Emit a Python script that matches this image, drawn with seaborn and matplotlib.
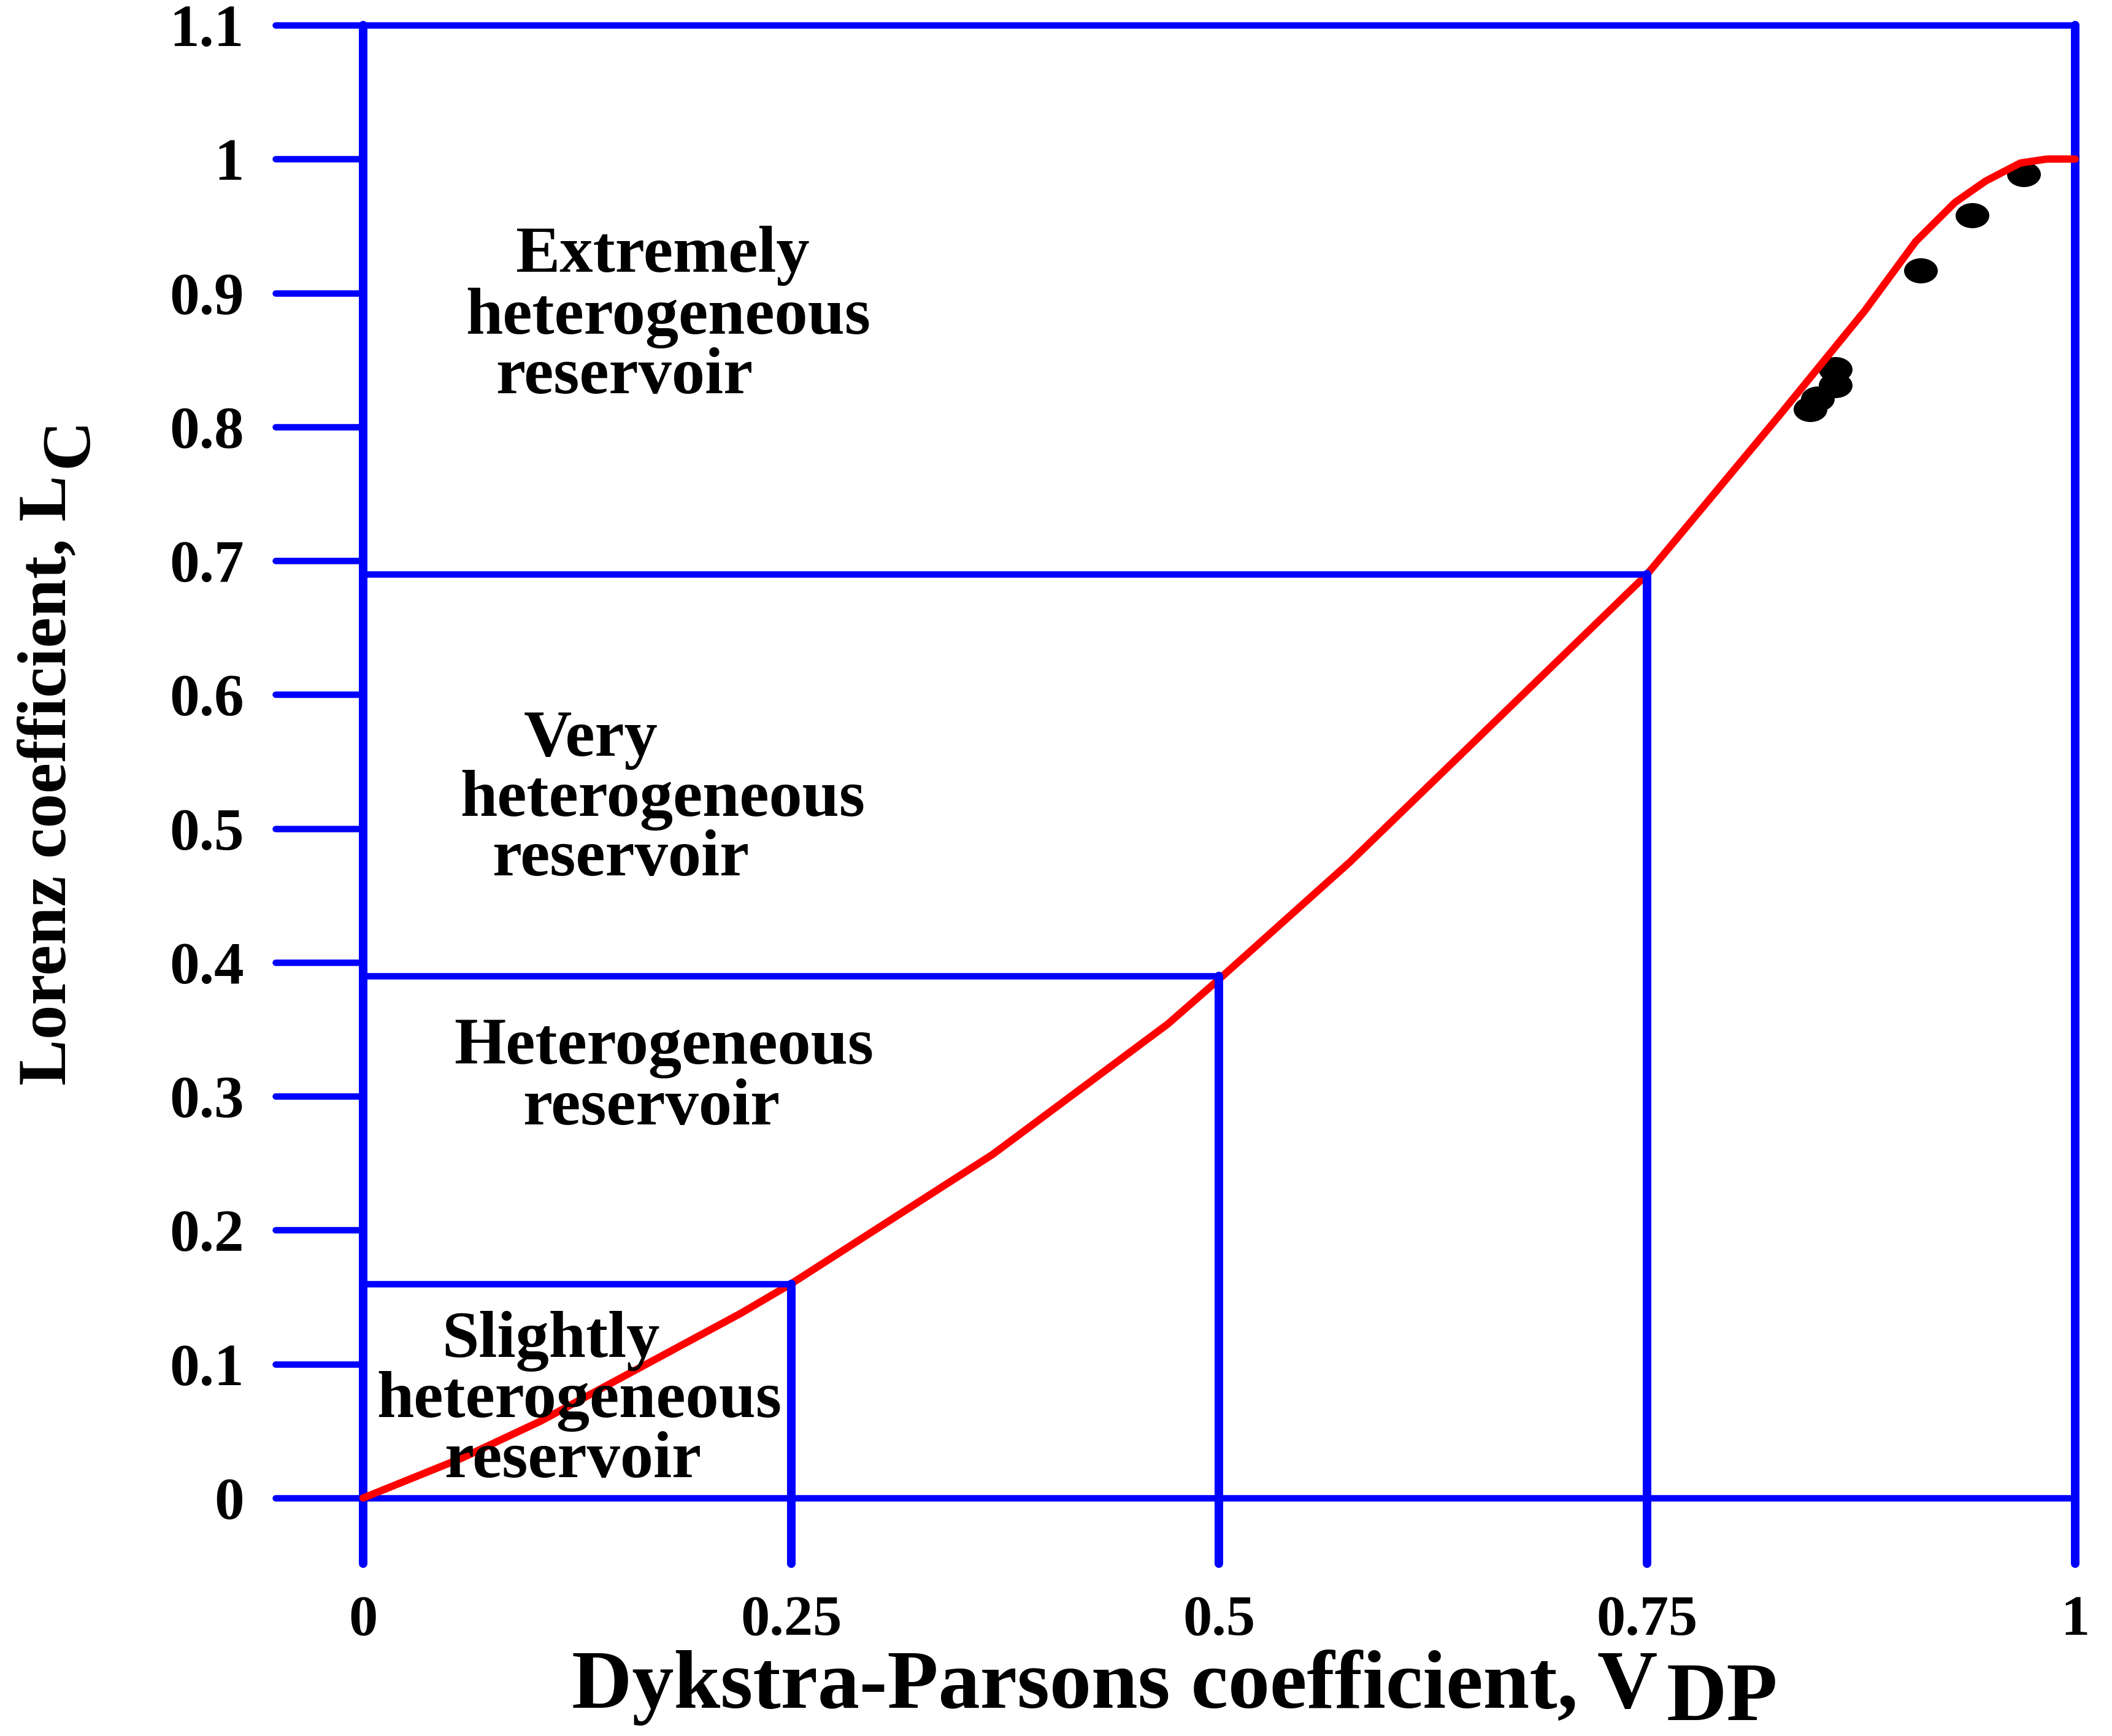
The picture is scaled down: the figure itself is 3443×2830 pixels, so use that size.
import numpy as np
import matplotlib
matplotlib.use("Agg")
import matplotlib.pyplot as plt
import seaborn as sns
import pandas as pd
from matplotlib.path import Path
from matplotlib.markers import MarkerStyle

# ---------------- data ----------------
vdp_curve = [0.0, 0.058, 0.1035, 0.2207, 0.25, 0.3677, 0.470, 0.500, 0.5764,
             0.750, 0.8274, 0.8771, 0.9069, 0.9297, 0.9476, 0.9679, 0.9834, 1.0]
lc_curve = [0.0, 0.030, 0.0573, 0.138, 0.160, 0.2566, 0.354, 0.3875, 0.475,
            0.690, 0.8088, 0.8867, 0.9385, 0.9675, 0.9835, 0.997, 1.0, 1.0]

vdp_points = [0.9700, 0.9398, 0.9097, 0.8598, 0.8598, 0.8496, 0.8453]
lc_points = [0.9885, 0.9578, 0.9166, 0.8430, 0.8309, 0.8209, 0.8134]

class_vdp = [0.25, 0.5, 0.75]
class_lc = [0.16, 0.39, 0.69]

x_ticks = [0, 0.25, 0.5, 0.75, 1]
x_tick_labels = ["0", "0.25", "0.5", "0.75", "1"]
y_ticks = [0, 0.1, 0.2, 0.3, 0.4, 0.5, 0.6, 0.7, 0.8, 0.9, 1.0, 1.1]
y_tick_labels = ["0", "0.1", "0.2", "0.3", "0.4", "0.5", "0.6", "0.7",
                 "0.8", "0.9", "1", "1.1"]

region_lines = ["Extremely", "heterogeneous", "reservoir",
                "Very", "heterogeneous", "reservoir",
                "Heterogeneous", "reservoir",
                "Slightly", "heterogeneous", "reservoir"]
region_x = [0.1748, 0.1781, 0.1526, 0.1329, 0.1748, 0.1505, 0.1756, 0.1684,
            0.1096, 0.1261, 0.1225]
region_y = [0.9157, 0.8695, 0.8250, 0.5543, 0.5094, 0.4650, 0.3243, 0.2790,
            0.1054, 0.0605, 0.0156]

x_label_main, x_label_sub = "Dykstra-Parsons coefficient, V", "DP"
y_label_main, y_label_sub = "Lorenz coefficient, L", "C"

# ---------------- styling ----------------
sns.set_theme(style="white")
plt.rcParams['font.family'] = ['Liberation Serif', 'DejaVu Serif']
plt.rcParams['font.weight'] = 'bold'
for k in ['text.color', 'axes.labelcolor', 'xtick.color', 'ytick.color']:
    plt.rcParams[k] = 'black'

W, H, DPI = 3443, 2830, 100
PT = 72.0 / DPI  # points per pixel
BLUE = '#0000ff'
RED = '#ff0000'

fig = plt.figure(figsize=(W / DPI, H / DPI), dpi=DPI)
fig.patch.set_facecolor('white')
ax_l, ax_r, ax_b, ax_t = 592, 3383, 2442, 41
ax = fig.add_axes([ax_l / W, 1 - ax_b / H, (ax_r - ax_l) / W, (ax_b - ax_t) / H])
ax.set_xlim(0, 1)
ax.set_ylim(0, 1.1)
for s in ax.spines.values():
    s.set_visible(False)
ax.patch.set_visible(False)
ax.grid(False)

xpp = 1.0 / (ax_r - ax_l)        # data x per pixel
ypp = 1.1 / (ax_b - ax_t)        # data y per pixel
tick_bottom = -107 * ypp
ytick_left = -143 * xpp
lw_v = 14 * PT
lw_h = 10.5 * PT
line_kw = dict(color=BLUE, solid_capstyle='round', clip_on=False)

# frame verticals (x = 0 and x = 1) extending below as ticks
for xv in [0, 1]:
    ax.plot([xv, xv], [tick_bottom, 1.1], lw=lw_v, zorder=1, **line_kw)
# horizontal frame lines at 0 and 1.1
for yv in [0, 1.1]:
    ax.plot([0, 1], [yv, yv], lw=lw_h, zorder=1, **line_kw)
# y ticks pointing left
for yv in y_ticks:
    ax.plot([ytick_left, 0], [yv, yv], lw=lw_h, zorder=1, **line_kw)

# data points (ellipse-shaped dots as in the picture)
circ = Path.unit_circle()
ell = Path(circ.vertices * np.array([1.0, 0.745]), circ.codes)
df_pts = pd.DataFrame({"VDP": vdp_points, "LC": lc_points})
sns.scatterplot(data=df_pts, x="VDP", y="LC", ax=ax, marker=MarkerStyle(ell),
                s=(55 * PT) ** 2, color='black', linewidth=0, zorder=2,
                legend=False, clip_on=False)

# correlation curve
df_curve = pd.DataFrame({"VDP": vdp_curve, "LC": lc_curve})
sns.lineplot(data=df_curve, x="VDP", y="LC", ax=ax, sort=False, estimator=None,
             color=RED, lw=12 * PT, zorder=3, legend=False)
for ln in ax.lines[-1:]:
    ln.set_solid_capstyle('round')
    ln.set_solid_joinstyle('round')
    ln.set_clip_on(False)

# class boundaries
for xv, yv in zip(class_vdp, class_lc):
    ax.plot([0, xv], [yv, yv], lw=lw_h, zorder=4, **line_kw)
    ax.plot([xv, xv], [tick_bottom, yv], lw=lw_v, zorder=4, **line_kw)

# region texts
for txt, xv, yv in zip(region_lines, region_x, region_y):
    ax.text(xv, yv, txt, ha='center', va='baseline', fontsize=78,
            fontweight='bold', color='black', zorder=6)

# tick labels
ax.set_xticks(x_ticks, x_tick_labels)
ax.set_yticks(y_ticks, y_tick_labels)
ax.tick_params(axis='x', length=0, pad=(2600 - ax_b) * PT, labelsize=68,
               colors='black')
ax.tick_params(axis='y', length=0, pad=(ax_l - 398) * PT, labelsize=70,
               colors='black')
for lab in ax.get_xticklabels() + ax.get_yticklabels():
    lab.set_fontweight('bold')
    lab.set_color('black')
ax.set_xlabel("")
ax.set_ylabel("")

# axis titles with same-size lowered subscripts
xm = fig.text(0, 0, x_label_main, fontsize=98, fontweight='bold',
              ha='left', va='baseline', color='black')
xs = fig.text(0, 0, x_label_sub, fontsize=98, fontweight='bold',
              ha='left', va='baseline', color='black')
ym = fig.text(0, 0, y_label_main, fontsize=81, fontweight='bold',
              ha='left', va='baseline', rotation=90, rotation_mode='anchor',
              color='black')
ys = fig.text(0, 0, y_label_sub, fontsize=81, fontweight='bold',
              ha='left', va='baseline', rotation=90, rotation_mode='anchor',
              color='black')
fig.canvas.draw()
r = fig.canvas.get_renderer()
w1 = xm.get_window_extent(r).width
w2 = xs.get_window_extent(r).width
gap = 14
x_center, x_base = 1915, 2784
left = x_center - (w1 + gap + w2) / 2
xm.set_position((left / W, 1 - x_base / H))
xs.set_position(((left + w1 + gap) / W, 1 - (x_base + 20) / H))

h1 = ym.get_window_extent(r).height
h2 = ys.get_window_extent(r).height
ygap = 12
y_center, y_base = 1225, 106
bottom = y_center + (h1 + ygap + h2) / 2
ym.set_position((y_base / W, 1 - bottom / H))
ys.set_position(((y_base + 36) / W, 1 - (bottom - h1 - ygap) / H))

fig.savefig("out.png", dpi=DPI, facecolor='white')
